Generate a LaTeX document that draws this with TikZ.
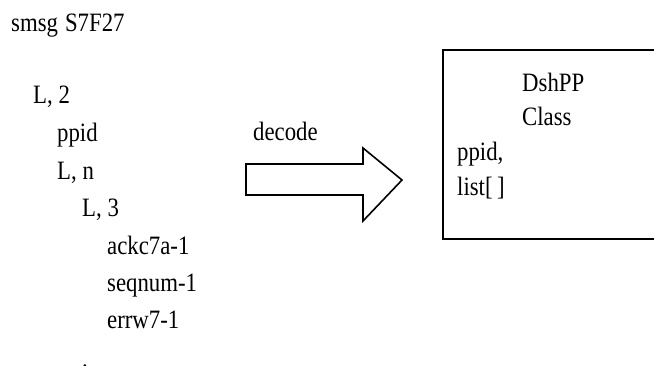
\documentclass[tikz,border=0pt]{standalone}
\usepackage{fontspec}
\setmainfont{Liberation Serif}[FakeStretch=0.86]
\begin{document}
\begin{tikzpicture}[x=1pt,y=-1pt,
  txt/.style={anchor=base west, inner sep=0pt, font=\fontsize{26.5}{30}\selectfont},
  classbox/.style={draw, line width=1.8pt, anchor=north west, inner sep=0pt},
  blockarrow/.style={draw, line width=1.6pt, line join=miter}]
\useasboundingbox (0,0) rectangle (654,365);
\clip (0,0) rectangle (654,365);

% message structure
\node[txt] (msg)  at (11,31)   {smsg\hspace{7pt}S7F27};
\node[txt] (l2)   at (33,103)  {L, 2};
\node[txt] (ppid) at (57,141)  {ppid};
\node[txt] (ln)   at (57,179)  {L, n};
\node[txt] (l3)   at (82,216)  {L, 3};
\node[txt] (ack)  at (107,254) {ackc7a-1};
\node[txt] (seq)  at (107,291) {seqnum-1};
\node[txt] (err)  at (107,328) {errw7-1};
\node[txt] (more) at (82,367)  {.};

% decode arrow
\node[txt] (dec) at (253,140) {decode};
\path[blockarrow] (246,164) -- (363,164) -- (363,148) -- (402,180)
  -- (363,221) -- (363,195) -- (246,195) -- cycle;

% resulting class
\node[classbox, minimum width=216pt, minimum height=189pt] (cls) at (442,49) {};
\node[txt] (cname)  at (522,91)  {DshPP};
\node[txt] (ckind)  at (522,125) {Class};
\node[txt] (cppid)  at (457,160) {ppid,};
\node[txt] (clist)  at (457,195) {list[\,]};
\end{tikzpicture}
\end{document}
